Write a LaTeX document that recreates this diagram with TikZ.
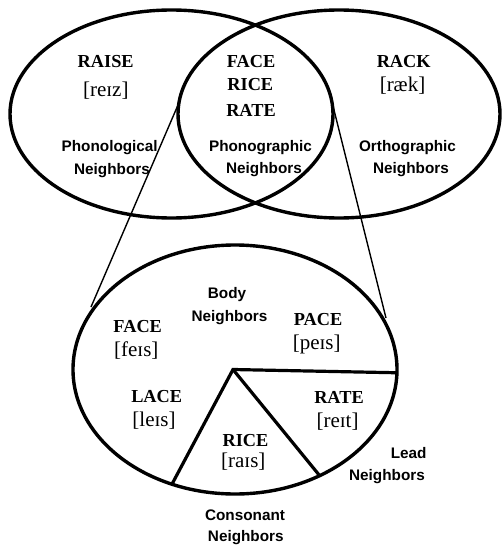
\documentclass[tikz,border=0pt]{standalone}
\usepackage{fontspec}
\setmainfont{Liberation Serif}
\newfontfamily\lsans{Liberation Sans}
\usetikzlibrary{calc}
\begin{document}
\begin{tikzpicture}[x=1pt,y=-1pt,
  venn/.style={line width=3.4pt},
  zoomline/.style={line width=1.4pt},
  spoke/.style={line width=3.2pt},
  word/.style={font=\bfseries\fontsize{18.3}{20}\selectfont, inner sep=0pt, anchor=base},
  ipa/.style={font=\fontsize{21}{22}\selectfont, inner sep=0pt, anchor=base},
  lab/.style={font=\lsans\bfseries\fontsize{15.3}{17}\selectfont, inner sep=0pt, anchor=base},
]
\useasboundingbox (0,0) rectangle (502,546);
% centres
\coordinate (L) at (171.5,114);
\coordinate (R) at (339,114);
\coordinate (B) at (235,369.5);
\coordinate (P) at (233,369.5);
% ellipses
\draw[venn] (L) ellipse [x radius=161.5pt, y radius=104pt];
\draw[venn] (R) ellipse [x radius=161pt, y radius=104pt];
\draw[venn] (B) ellipse [x radius=162pt, y radius=124.5pt];
% zoom lines
\coordinate (zl1) at (178,105);
\coordinate (zl2) at (91,307);
\coordinate (zr1) at (333,106);
\coordinate (zr2) at (386,318);
\draw[zoomline] (zl1) -- (zl2);
\draw[zoomline] (zr1) -- (zr2);
% spokes
\coordinate (s1) at ($(B)+(-1.5:162pt and 124.5pt)$);
\coordinate (s2) at ($(B)+(-112.9:162pt and 124.5pt)$);
\coordinate (s3) at ($(B)+(-58.5:162pt and 124.5pt)$);
\draw[spoke] (s1) -- (P) -- (s2);
\draw[spoke] (P) -- (s3);
% top left
\node[word] (raise) at (105.7,67.7) {RAISE};
\node[ipa] (raiseipa) at (105.8,96.5) {[reɪz]};
\node[lab] (phon1) at (109.7,151.7) {Phonological};
\node[lab] (phon2) at (112,174) {Neighbors};
% top middle
\node[word] (face1) at (251,67.3) {FACE};
\node[word] (rice1) at (250.3,90.7) {RICE};
\node[word] (rate1) at (251,116) {RATE};
\node[lab] (pg1) at (260.5,151.7) {Phonographic};
\node[lab] (pg2) at (264,173.5) {Neighbors};
% top right
\node[word] (rack) at (403.7,67.3) {RACK};
\node[ipa] (rackipa) at (402.5,91) {[ræk]};
\node[lab] (orth1) at (407.5,151.7) {Orthographic};
\node[lab] (orth2) at (411,173) {Neighbors};
% bottom
\node[lab] (body1) at (227,298) {Body};
\node[lab] (body2) at (229.5,321.7) {Neighbors};
\node[word] (face2) at (137.7,332.7) {FACE};
\node[ipa] (faceipa) at (136.3,356.5) {[feɪs]};
\node[word] (pace) at (318,325) {PACE};
\node[ipa] (paceipa) at (316.7,349) {[peɪs]};
\node[word] (lace) at (156.7,402.7) {LACE};
\node[ipa] (laceipa) at (154,426) {[leɪs]};
\node[word] (rate2) at (339,403.3) {RATE};
\node[ipa] (rateipa) at (337.5,427.5) {[reɪt]};
\node[word] (rice2) at (245.5,446.7) {RICE};
\node[ipa] (riceipa) at (243.3,467.5) {[raɪs]};
\node[lab, anchor=base east] (lead1) at (426.7,458.3) {Lead};
\node[lab, anchor=base east] (lead2) at (425,480) {Neighbors};
\node[lab] (cons1) at (245,520) {Consonant};
\node[lab] (cons2) at (245.8,541.5) {Neighbors};
\end{tikzpicture}
\end{document}
